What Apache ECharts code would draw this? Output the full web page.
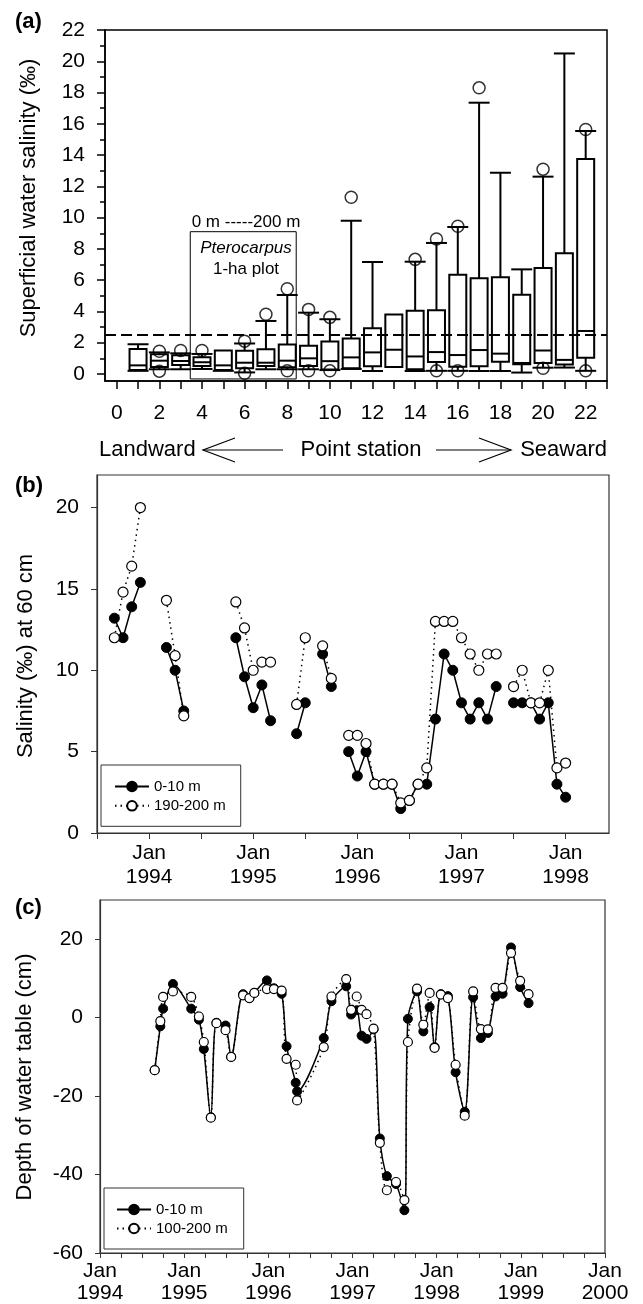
<!DOCTYPE html>
<html>
<head>
<meta charset="utf-8">
<title>Salinity and water table</title>
<script src="https://cdn.jsdelivr.net/npm/echarts@6/dist/echarts.min.js"></script>
<style>
  html, body { margin: 0; padding: 0; background: #fff; }
  #chart { width: 643px; height: 1304px; }
</style>
</head>
<body>
<div id="chart"></div>
<script>
// (a) superficial water salinity by point station (box summary, per mil)
const stations    = [1, 2, 3, 4, 5, 6, 7, 8, 9, 10, 11, 12, 13, 14, 15, 16, 17, 18, 19, 20, 21, 22];
const whiskerLow  = [0.2, 0.3, 0.3, 0.32, 0.2, 0.1, 0.3, 0.3, 0.3, 0.25, 0.32, 0.19, null, 0.19, 0.2, 0.2, 0.19, 0.19, 0.09, 0.4, 0.41, 0.2];
const quart1      = [0.25, 0.45, 0.58, 0.51, 0.26, 0.36, 0.51, 0.43, 0.51, 0.28, 0.36, 0.5, 0.45, 0.3, 0.77, 0.46, 0.5, 0.78, 0.62, 0.7, 0.6, 1.03];
const medians     = [0.55, 0.85, 0.83, 0.75, 0.55, 0.72, 0.72, 0.85, 1.0, 0.82, 1.06, 1.38, 1.55, 1.12, 1.4, 1.21, 1.53, 1.3, 0.7, 1.5, 0.9, 2.75];
const quart3      = [1.6, 1.26, 1.2, 1.07, 1.5, 1.49, 1.58, 1.88, 1.81, 2.08, 2.27, 2.92, 3.81, 4.05, 4.07, 6.35, 6.12, 6.18, 5.07, 6.78, 7.72, 13.75];
const whiskerHigh = [1.9, 1.38, 1.32, 1.28, null, 1.95, 3.39, 5.05, 3.92, 3.5, 9.8, 7.16, null, 7.18, 8.38, 9.4, 17.35, 12.87, 6.69, 12.62, 20.5, 15.54];
const outlierHigh = [null, 1.45, 1.5, 1.5, null, 2.1, 3.82, 5.45, 4.13, 3.62, 11.3, null, null, 7.33, 8.63, 9.45, 18.3, null, null, 13.1, null, 15.64];
const outlierLow  = [null, 0.18, null, null, null, 0.04, null, 0.2, 0.2, 0.2, null, null, null, null, 0.2, 0.2, null, null, null, 0.36, null, 0.2];
const salinityLimit = 2.5;
const plotSpan = [3.45, 8.42];      // stations covered by the 1-ha plot
const plotDepth = [-0.32, 9.1];
const ticksA  = [0, 1, 2, 3, 4, 5, 6, 7, 8, 9, 10, 11, 12, 13, 14, 15, 16, 17, 18, 19, 20, 21, 22, 23];
const labelsA = [0, 2, 4, 6, 8, 10, 12, 14, 16, 18, 20, 22];
const yTicksA = [0, 2, 4, 6, 8, 10, 12, 14, 16, 18, 20, 22];
const yMinorA = [1, 3, 5, 7, 9, 11, 13, 15, 17, 19, 21];

// (b) salinity at 60 cm, x = months counted from Jan 1993
const monthsB = [8, 9, 10, 11, 12, 13, 14, 15, 16, 17, 18, 19, 20, 21, 22, 23, 24, 25, 26, 27, 28, 29, 30, 31, 32, 33, 34,
                 35, 36, 37, 38, 39, 40, 41, 42, 43, 44, 45, 46, 47, 48, 49, 50, 51, 52, 53, 54, 55, 56, 57, 58, 59, 60];
const salinityEdge  = [13.2, 12.0, 13.9, 15.4, null, null, 11.4, 10.0, 7.5, null, null, null, null, null, 12.0, 9.6, 7.7, 9.1, 6.9, null, null, 6.1, 8.0, null, 11.0, 9.0, null,
                       5.0, 3.5, 5.0, 3.0, 3.0, 3.0, 1.5, 2.0, 3.0, 3.0, 7.0, 11.0, 10.0, 8.0, 7.0, 8.0, 7.0, 9.0, null, 8.0, 8.0, 8.0, 7.0, 8.0, 3.0, 2.2];
const salinityInner = [12.0, 14.8, 16.4, 20.0, null, null, 14.3, 10.9, 7.2, null, null, null, null, null, 14.2, 12.6, 10.0, 10.5, 10.5, null, null, 7.9, 12.0, null, 11.5, 9.5, null,
                       6.0, 6.0, 5.5, 3.0, 3.0, 3.0, 1.85, 2.0, 3.0, 4.0, 13.0, 13.0, 13.0, 12.0, 11.0, 10.0, 11.0, 11.0, null, 9.0, 10.0, 8.0, 8.0, 10.0, 4.0, 4.3];
const xTicksB  = [6, 12, 18, 24, 30, 36, 42, 48, 54, 60];
const xLabelsB = [12, 24, 36, 48, 60];
const yTicksB  = [0, 5, 10, 15, 20];

// (c) depth of water table (cm), x = months counted from Jan 1993
const monthsC = [19.8, 20.6, 21.0, 22.4, 25.0, 26.1, 26.8, 27.8, 28.6, 29.9, 30.7, 32.4, 33.3, 34.0, 35.8, 36.8, 37.9, 38.6, 39.9, 40.1,
                 43.9, 45.0, 47.1, 47.8, 48.6, 49.3, 50.0, 51.0, 51.9, 52.9, 54.2, 55.4, 55.9, 57.2, 58.1, 59.0, 59.7, 60.6, 61.6, 62.7,
                 64.0, 65.2, 66.3, 67.3, 68.4, 69.4, 70.6, 71.9, 73.1];
const depthEdge  = [-13.4, -2.2, 2.3, 8.6, 2.3, -0.5, -8.0, -25.4, -1.3, -2.0, -10.0, 6.0, 5.0, 6.3, 9.5, 7.5, 6.1, -7.3, -16.6, -18.8,
                    -5.2, 4.2, 8.0, 0.8, 1.9, -4.6, -5.4, -3.0, -30.8, -40.4, -42.4, -49.1, -0.3, 6.7, -3.5, 2.7, -7.5, 6.0, 5.5, -13.9,
                    -24.0, 5.2, -5.2, -3.9, 5.4, 6.1, 17.9, 7.8, 3.7];
const depthInner = [-13.4, -0.9, 5.3, 6.7, 5.3, 0.3, -6.2, -25.5, -1.4, -3.2, -10.0, 5.7, 5.0, 6.3, 7.3, 7.3, 6.9, -10.5, -12.0, -21.1,
                    -7.5, 5.4, 9.85, 2.0, 5.4, 2.0, 0.9, -2.8, -31.9, -44.0, -41.9, -46.5, -6.2, 7.4, -1.8, 6.3, -7.7, 5.9, 5.0, -12.0,
                    -25.0, 6.7, -2.9, -3.0, 7.6, 7.6, 16.5, 9.4, 6.0];
const xTicksC  = [12, 15, 18, 21, 24, 27, 30, 33, 36, 39, 42, 45, 48, 51, 54, 57, 60, 63, 66, 69, 72, 75, 78, 81, 84];
const xLabelsC = [12, 24, 36, 48, 60, 72, 84];
const yTicksC  = [-60, -40, -20, 0, 20];

const FONT = '"Liberation Sans", Arial, sans-serif';
const pairs = (xs, ys) => xs.map((x, i) => [x, ys[i]]);
const has = v => v !== null && v !== undefined && !isNaN(v);
const janLabel = v => 'Jan\n' + (1993 + v / 12);

const chart = echarts.init(document.getElementById('chart'), null, { renderer: 'canvas' });

function renderBox(params, api) {
  const x = api.value(0);
  const lo = api.value(1), q1 = api.value(2), md = api.value(3), q3 = api.value(4), hi = api.value(5);
  const half = 8.5, cap = 10.5;
  const style = { stroke: '#000', lineWidth: 2, fill: 'none' };
  const top = api.coord([x, q3]);
  const bot = api.coord([x, q1]);
  const mid = api.coord([x, md]);
  const kids = [
    { type: 'rect', shape: { x: top[0] - half, y: top[1], width: half * 2, height: bot[1] - top[1] }, style },
    { type: 'line', shape: { x1: mid[0] - half, y1: mid[1], x2: mid[0] + half, y2: mid[1] }, style }
  ];
  if (has(hi)) {
    const p = api.coord([x, hi]);
    kids.push({ type: 'line', shape: { x1: p[0], y1: top[1], x2: p[0], y2: p[1] }, style });
    kids.push({ type: 'line', shape: { x1: p[0] - cap, y1: p[1], x2: p[0] + cap, y2: p[1] }, style });
  }
  if (has(lo)) {
    const p = api.coord([x, lo]);
    kids.push({ type: 'line', shape: { x1: p[0], y1: bot[1], x2: p[0], y2: p[1] }, style });
    kids.push({ type: 'line', shape: { x1: p[0] - cap, y1: p[1], x2: p[0] + cap, y2: p[1] }, style });
  }
  return { type: 'group', children: kids };
}

const txt = (x, y, text, font, align, extra) => Object.assign({
  type: 'text', x, y, silent: true,
  style: { text, font, fill: '#000', textAlign: align || 'center', textVerticalAlign: 'middle', align: align || 'center', verticalAlign: 'middle' }
}, extra || {});
const seg = (points) => ({ type: 'polyline', silent: true, shape: { points }, style: { stroke: '#000', lineWidth: 1.2, fill: null } });

const frameA = { show: true, borderColor: '#000', borderWidth: 1.5 };
const frameB = { show: true, borderColor: '#333', borderWidth: 1.2 };

const axisBase = (color, w) => ({
  axisLine: { show: true, onZero: false, lineStyle: { color, width: w } },
  splitLine: { show: false },
  axisLabel: { color: '#000', fontSize: 21, fontFamily: FONT }
});

const option = {
  animation: false,
  backgroundColor: '#fff',
  textStyle: { fontFamily: FONT, color: '#000' },
  grid: [
    Object.assign({ left: 105, top: 30, width: 502, height: 351 }, frameA),
    Object.assign({ left: 97, top: 475, width: 512, height: 358 }, frameB),
    Object.assign({ left: 100, top: 900, width: 505, height: 353 }, frameB)
  ],
  xAxis: [
    Object.assign(axisBase('#000', 1.5), {
      type: 'value', gridIndex: 0, min: -0.55, max: 23,
      axisTick: { show: true, customValues: ticksA, length: 8, lineStyle: { color: '#000', width: 1.5 } },
      axisLabel: { customValues: labelsA, color: '#000', fontSize: 21, fontFamily: FONT, margin: 22 }
    }),
    Object.assign(axisBase('#333', 1.2), {
      type: 'value', gridIndex: 1, min: 6, max: 65,
      axisTick: { show: true, customValues: xTicksB, length: 6, lineStyle: { color: '#333' } },
      axisLabel: { customValues: xLabelsB, formatter: janLabel, color: '#000', fontSize: 21, lineHeight: 24, fontFamily: FONT, margin: 8 }
    }),
    Object.assign(axisBase('#333', 1.2), {
      type: 'value', gridIndex: 2, min: 12, max: 84,
      axisTick: { show: true, customValues: xTicksC, length: 5, lineStyle: { color: '#333' } },
      axisLabel: { customValues: xLabelsC, formatter: janLabel, color: '#000', fontSize: 21, lineHeight: 22, fontFamily: FONT, margin: 7 }
    })
  ],
  yAxis: [
    Object.assign(axisBase('#000', 1.5), {
      type: 'value', gridIndex: 0, position: 'left', min: -0.45, max: 22,
      axisTick: { show: true, customValues: yTicksA, length: 8, lineStyle: { color: '#000', width: 1.5 } },
      axisLabel: { customValues: yTicksA, color: '#000', fontSize: 21, fontFamily: FONT, margin: 20 }
    }),
    {
      type: 'value', gridIndex: 0, position: 'left', min: -0.45, max: 22,
      axisLine: { show: false, onZero: false }, splitLine: { show: false }, axisLabel: { show: false },
      axisTick: { show: true, customValues: yMinorA, length: 5, lineStyle: { color: '#000', width: 1.5 } }
    },
    Object.assign(axisBase('#333', 1.2), {
      type: 'value', gridIndex: 1, min: 0, max: 22,
      axisTick: { show: true, customValues: yTicksB, length: 6, lineStyle: { color: '#333' } },
      axisLabel: { customValues: yTicksB, color: '#000', fontSize: 21, fontFamily: FONT, margin: 18 }
    }),
    Object.assign(axisBase('#333', 1.2), {
      type: 'value', gridIndex: 2, min: -60, max: 30,
      axisTick: { show: true, customValues: yTicksC, length: 5, lineStyle: { color: '#333' } },
      axisLabel: { customValues: yTicksC, color: '#000', fontSize: 21, fontFamily: FONT, margin: 17 }
    })
  ],
  legend: [
    {
      data: ['0-10 m', '190-200 m'], orient: 'vertical', left: 101, top: 765,
      itemWidth: 34, itemHeight: 12, itemGap: 4.3, padding: [14, 15, 13, 13],
      backgroundColor: '#fff', borderColor: '#333', borderWidth: 1, selectedMode: false,
      textStyle: { fontSize: 15, lineHeight: 15, color: '#000', fontFamily: FONT }
    },
    {
      data: ['0-10 m', '100-200 m'], orient: 'vertical', left: 104, top: 1188,
      itemWidth: 34, itemHeight: 12, itemGap: 4, padding: [14, 16, 13, 12],
      backgroundColor: '#fff', borderColor: '#333', borderWidth: 1, selectedMode: false,
      textStyle: { fontSize: 15, lineHeight: 15, color: '#000', fontFamily: FONT }
    }
  ],
  series: [
    {
      type: 'custom', name: 'boxes', xAxisIndex: 0, yAxisIndex: 0,
      renderItem: renderBox,
      encode: { x: 0, y: [1, 2, 3, 4, 5] },
      data: stations.map((s, i) => [s, whiskerLow[i], quart1[i], medians[i], quart3[i], whiskerHigh[i]]),
      z: 3,
      markLine: {
        silent: true, symbol: 'none', label: { show: false },
        lineStyle: { color: '#000', width: 2, type: [11, 5] },
        data: [{ yAxis: salinityLimit }]
      },
      markArea: {
        silent: true, label: { show: false },
        itemStyle: { color: 'rgba(0,0,0,0)', borderColor: '#000', borderWidth: 1 },
        data: [[{ coord: [plotSpan[0], plotDepth[1]] }, { coord: [plotSpan[1], plotDepth[0]] }]]
      }
    },
    {
      type: 'scatter', name: 'extremes', xAxisIndex: 0, yAxisIndex: 0,
      symbol: 'circle', symbolSize: 12, z: 4,
      itemStyle: { color: 'rgba(0,0,0,0)', borderColor: '#000', borderWidth: 1.5 },
      data: pairs(stations, outlierHigh).concat(pairs(stations, outlierLow)).filter(p => has(p[1]))
    },
    {
      type: 'line', name: '0-10 m', xAxisIndex: 1, yAxisIndex: 2, z: 2,
      symbol: 'circle', symbolSize: 10, showAllSymbol: true,
      lineStyle: { color: '#000', width: 1.5 },
      itemStyle: { color: '#000', borderColor: '#000', borderWidth: 1 },
      data: pairs(monthsB, salinityEdge)
    },
    {
      type: 'line', name: '190-200 m', xAxisIndex: 1, yAxisIndex: 2, z: 3,
      symbol: 'circle', symbolSize: 10, showAllSymbol: true,
      lineStyle: { color: '#000', width: 1.5, type: [1.5, 4] },
      itemStyle: { color: '#fff', borderColor: '#000', borderWidth: 1.2 },
      data: pairs(monthsB, salinityInner)
    },
    {
      type: 'line', name: '0-10 m', xAxisIndex: 2, yAxisIndex: 3, z: 2,
      symbol: 'circle', symbolSize: 9, showAllSymbol: true, smooth: 0.3,
      lineStyle: { color: '#000', width: 1.5 },
      itemStyle: { color: '#000', borderColor: '#000', borderWidth: 1 },
      data: pairs(monthsC, depthEdge)
    },
    {
      type: 'line', name: '100-200 m', xAxisIndex: 2, yAxisIndex: 3, z: 3,
      symbol: 'circle', symbolSize: 9, showAllSymbol: true, smooth: 0.3,
      lineStyle: { color: '#000', width: 1.5, type: [1.5, 4] },
      itemStyle: { color: '#fff', borderColor: '#000', borderWidth: 1.2 },
      data: pairs(monthsC, depthInner)
    }
  ],
  graphic: [
    txt(15, 21.5, '(a)', 'bold 22px ' + FONT, 'left'),
    txt(15, 486, '(b)', 'bold 22px ' + FONT, 'left'),
    txt(15, 908, '(c)', 'bold 22px ' + FONT, 'left'),
    txt(29, 198, 'Superficial water salinity (‰)', '22px ' + FONT, 'center', { rotation: Math.PI / 2 }),
    txt(26, 656, 'Salinity (‰) at 60 cm', '22px ' + FONT, 'center', { rotation: Math.PI / 2 }),
    txt(25, 1077, 'Depth of water table (cm)', '22px ' + FONT, 'center', { rotation: Math.PI / 2 }),
    txt(246, 222, '0 m -----200 m', '17px ' + FONT, 'center'),
    txt(246, 248, 'Pterocarpus', 'italic 17px ' + FONT, 'center'),
    txt(246, 269, '1-ha plot', '17px ' + FONT, 'center'),
    txt(99, 450, 'Landward', '22px ' + FONT, 'left'),
    txt(361, 450, 'Point station', '22px ' + FONT, 'center'),
    txt(607, 450, 'Seaward', '22px ' + FONT, 'right'),
    seg([[203, 450], [283, 450]]),
    seg([[235, 438], [203, 450], [235, 462]]),
    seg([[436, 450], [511, 450]]),
    seg([[479, 438], [511, 450], [479, 462]])
  ]
};

chart.setOption(option);
window.addEventListener('resize', () => chart.resize());
</script>
</body>
</html>
